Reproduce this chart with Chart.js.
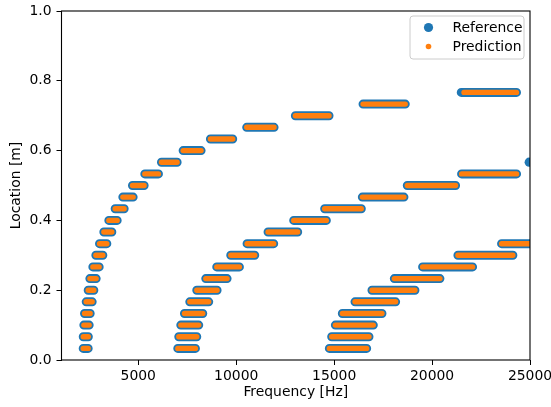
<!DOCTYPE html>
<html>
<head>
<meta charset="utf-8">
<script src="https://cdn.jsdelivr.net/npm/chart.js@4.4.0/dist/chart.umd.min.js"></script>
<style>
  html, body { margin: 0; padding: 0; background: #fff; }
</style>
</head>
<body>
<canvas id="modes-chart" width="551" height="407"></canvas>
<script>
// location levels [m], one per step of the staircase
const levels = [0.0333, 0.0667, 0.1, 0.1333, 0.1667, 0.2, 0.2333, 0.2667, 0.3, 0.3333, 0.3667, 0.4,
                0.4333, 0.4667, 0.5, 0.5333, 0.5667, 0.6, 0.6333, 0.6667, 0.7, 0.7333, 0.7667];

// first branch: start / end frequency [Hz] of each step
const branch1Start = [2188, 2190, 2221, 2256, 2341, 2443, 2528, 2681, 2834, 3021, 3242, 3497,
                      3820, 4211, 4704, 5334, 6184, 7290, 8684, 10536, 13021, 16475, 21490];
const branch1End   = [2442, 2450, 2493, 2544, 2646, 2731, 2850, 3003, 3190, 3394, 3649, 3922,
                      4279, 4738, 5299, 6030, 6983, 8207, 9821, 11933, 14739, 18632, 24311];

// second branch
const branch2Start = [7017, 7068, 7170, 7358, 7630, 7987, 8446, 9007, 9721, 10555, 11626, 12936,
                      14517, 16439, 18735, 21507];
const branch2End   = [7918, 7986, 8087, 8292, 8597, 9023, 9534, 10163, 10945, 11914, 13139, 14602,
                      16387, 18564, 21200, 24313];

// third branch
const branch3Start = [14756, 14875, 15062, 15419, 16065, 16932, 18072, 19517, 21320, 23548];
const branch3End   = [16660, 16779, 17000, 17442, 18139, 19125, 20401, 22067, 24125, 26000];

// reference-only point at the right edge, and the later start of the prediction's top step
const refExtraX = [24960];
const refExtraY = [0.5667];
const predTopStart = 21630;

const xTicks = [5000, 10000, 15000, 20000, 25000];
const yTicks = [0, 0.2, 0.4, 0.6, 0.8, 1.0];

const BLUE = '#1f77b4';
const ORANGE = '#ff7f0e';
const FONT = 'DejaVu Sans';

function steps(starts, ends) {
  const pts = [];
  starts.forEach((s, i) => {
    pts.push({x: s, y: levels[i]}, {x: ends[i], y: levels[i]}, {x: null, y: null});
  });
  return pts;
}

const refData = steps(branch1Start, branch1End)
  .concat(steps(branch2Start, branch2End), steps(branch3Start, branch3End));

const predBranch1Start = branch1Start.slice();
predBranch1Start[predBranch1Start.length - 1] = predTopStart;
const predData = steps(predBranch1Start, branch1End)
  .concat(steps(branch2Start, branch2End), steps(branch3Start, branch3End));

// matplotlib-like framed legend inside the axes + full box around the plot
const framePlugin = {
  id: 'frame',
  afterDatasetsDraw(chart) {
    const {ctx, chartArea: ca} = chart;
    ctx.save();
    ctx.strokeStyle = '#000';
    ctx.lineWidth = 1.1;
    ctx.strokeRect(ca.left, ca.top, ca.right - ca.left, ca.bottom - ca.top);
    ctx.restore();
  },
  afterDraw(chart) {
    const {ctx, chartArea: ca} = chart;
    const bx = ca.right - 120, by = ca.top + 5, bw = 114, bh = 43, r = 3;
    ctx.save();
    ctx.beginPath();
    ctx.moveTo(bx + r, by);
    ctx.arcTo(bx + bw, by, bx + bw, by + bh, r);
    ctx.arcTo(bx + bw, by + bh, bx, by + bh, r);
    ctx.arcTo(bx, by + bh, bx, by, r);
    ctx.arcTo(bx, by, bx + bw, by, r);
    ctx.closePath();
    ctx.fillStyle = 'rgba(255,255,255,0.8)';
    ctx.fill();
    ctx.strokeStyle = '#cccccc';
    ctx.lineWidth = 1;
    ctx.stroke();

    const items = [
      {label: chart.data.datasets[0].label, color: BLUE, r: 4.6, y: by + 11.5},
      {label: chart.data.datasets[1].label, color: ORANGE, r: 2.8, y: by + 30.5}
    ];
    ctx.font = '13.9px "' + FONT + '"';
    ctx.textBaseline = 'middle';
    ctx.textAlign = 'left';
    items.forEach(it => {
      ctx.beginPath();
      ctx.arc(bx + 18.5, it.y, it.r, 0, Math.PI * 2);
      ctx.fillStyle = it.color;
      ctx.fill();
      ctx.fillStyle = '#000';
      ctx.fillText(it.label, bx + 42.5, it.y + 0.5);
    });
    ctx.restore();
  }
};

new Chart(document.getElementById('modes-chart'), {
  type: 'line',
  data: {
    datasets: [{
      label: 'Reference',
      data: refData,
      borderColor: BLUE,
      borderWidth: 9,
      borderCapStyle: 'round',
      pointRadius: 0,
      spanGaps: false,
      clip: 0,
      order: 2
    }, {
      label: 'Prediction',
      data: predData,
      borderColor: ORANGE,
      borderWidth: 5.4,
      borderCapStyle: 'round',
      pointRadius: 0,
      spanGaps: false,
      clip: 0,
      order: 1
    }, {
      label: 'Reference extra',
      data: refExtraX.map((x, i) => ({x: x, y: refExtraY[i]})),
      showLine: false,
      pointRadius: 4.6,
      pointBackgroundColor: BLUE,
      pointBorderWidth: 0,
      clip: 0,
      order: 3
    }]
  },
  plugins: [framePlugin],
  options: {
    responsive: false,
    animation: false,
    events: [],
    layout: { padding: { top: 11, right: 21, left: 0, bottom: 0 } },
    plugins: {
      legend: { display: false },
      tooltip: { enabled: false }
    },
    scales: {
      x: {
        type: 'linear',
        min: 1080,
        max: 25000,
        afterFit: s => { s.height = 47; s.paddingLeft = 0; s.paddingRight = 0; },
        afterBuildTicks: s => { s.ticks = xTicks.map(v => ({value: v})); },
        grid: { drawOnChartArea: false, drawTicks: true, tickLength: 5, tickColor: '#000', tickWidth: 1 },
        border: { display: false },
        ticks: {
          color: '#000', padding: 3, maxRotation: 0, autoSkip: false,
          font: { family: FONT, size: 13.9 },
          callback: v => String(v)
        },
        title: {
          display: true, text: 'Frequency [Hz]', color: '#000',
          font: { family: FONT, size: 13.9 }, padding: { top: 0, bottom: 6.5 }
        }
      },
      y: {
        min: 0,
        max: 1,
        afterFit: s => { s.width = 61.5; s.paddingTop = 0; s.paddingBottom = 0; },
        afterBuildTicks: s => { s.ticks = yTicks.map(v => ({value: v})); },
        grid: { drawOnChartArea: false, drawTicks: true, tickLength: 5, tickColor: '#000', tickWidth: 1 },
        border: { display: false },
        ticks: {
          color: '#000', padding: 5, autoSkip: false,
          font: { family: FONT, size: 13.9 },
          callback: v => v.toFixed(1)
        },
        title: {
          display: true, text: 'Location [m]', color: '#000',
          font: { family: FONT, size: 13.9 }, padding: { top: 8, bottom: 0 }
        }
      }
    }
  }
});
</script>
</body>
</html>
